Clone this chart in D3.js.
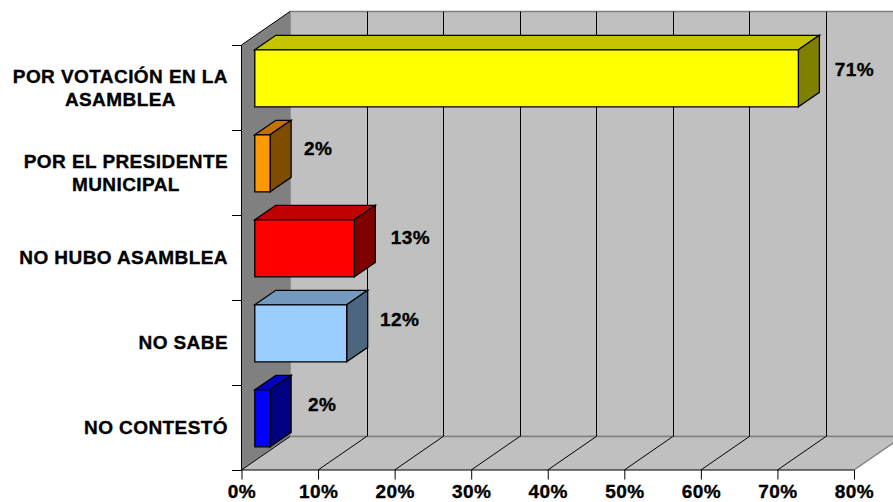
<!DOCTYPE html>
<html><head><meta charset="utf-8">
<script src="https://d3js.org/d3.v7.min.js"></script>
<style>html,body{margin:0;padding:0;background:#fff}svg{display:block}text{font-family:"Liberation Sans",Arial,sans-serif;font-weight:bold;fill:#000;stroke:#000;stroke-width:.35px}</style>
</head><body><svg id="c" width="893" height="502"></svg>
<script>
const categories=[["POR VOTACIÓN EN LA","ASAMBLEA"],["POR EL PRESIDENTE","MUNICIPAL"],["NO HUBO ASAMBLEA"],["NO SABE"],["NO CONTESTÓ"]];
const values=[71,2,13,12,2];
const valueLabels=["71%","2%","13%","12%","2%"];
const frontColors=["#FFFF00","#FF9900","#FF0000","#99CCFF","#0000FF"];
const topColors=["#C4C400","#C07300","#C00000","#7399BF","#0000C0"];
const sideColors=["#808000","#804D00","#800000","#4D6680","#000080"];
const xTickValues=[0,10,20,30,40,50,60,70,80];
const labelNudgeX=[35,27,35,32,31];
const labelNudgeY=[-8,-14,-10,-13,-13];

const svg=d3.select("#c");
const W=893;
const x=d3.scaleLinear().domain([0,80]).range([241.5,854]);
const y=d3.scaleBand().domain(d3.range(values.length)).range([45,470]);
const depth={x:48.5,y:-33.5};
const bar={x:13.3,y:-9,dx:21,dy:-14.5,pad:13.8,h:57};
const top0=y.range()[0],bot=y.range()[1];
const poly=(p,fill,stroke,sw)=>svg.append("polygon").attr("points",p.map(d=>d.join(",")).join(" ")).attr("fill",fill).attr("stroke",stroke||"none").attr("stroke-width",sw||1);
const x0=x(0),xEnd=x(80);
const FS=19, LS=0.42;

poly([[x0+depth.x,top0+depth.y],[W+20,top0+depth.y],[W+20,bot+depth.y],[x0+depth.x,bot+depth.y]],"#C0C0C0","#808080",1.5);
poly([[x0,top0],[x0+depth.x,top0+depth.y],[x0+depth.x,bot+depth.y],[x0,bot]],"#808080","none");
svg.append("line").attr("x1",x0).attr("y1",top0).attr("x2",x0+depth.x).attr("y2",top0+depth.y).attr("stroke","#000");
poly([[x0,bot],[x0+depth.x,bot+depth.y],[xEnd+depth.x,bot+depth.y],[xEnd,bot]],"#C0C0C0","none");
svg.append("line").attr("x1",x0+depth.x).attr("y1",bot+depth.y).attr("x2",W).attr("y2",bot+depth.y).attr("stroke","#808080").attr("stroke-width",1.5);
svg.append("line").attr("x1",xEnd).attr("y1",bot).attr("x2",xEnd+depth.x).attr("y2",bot+depth.y).attr("stroke","#808080").attr("stroke-width",1.5);
xTickValues.slice(1).forEach(t=>{
  const gx=Math.round(x(t)+depth.x)+.5;
  svg.append("line").attr("x1",gx).attr("x2",gx).attr("y1",top0+depth.y).attr("y2",bot+depth.y).attr("stroke","#000");
});
xTickValues.slice(0,-1).forEach(t=>{
  svg.append("line").attr("x1",x(t)).attr("y1",bot).attr("x2",x(t)+depth.x).attr("y2",bot+depth.y).attr("stroke","#000");
});
const ya=svg.append("g").attr("transform",`translate(${x0},0)`);
ya.append("line").attr("y1",top0).attr("y2",bot).attr("stroke","#000");
d3.range(values.length+1).forEach(i=>{
  const ty=Math.round(top0+i*y.step())+.5;
  ya.append("line").attr("x1",-9.5).attr("x2",0).attr("y1",ty).attr("y2",ty).attr("stroke","#000");
});
const xa=d3.axisBottom(x).tickValues(xTickValues).tickFormat(d=>d+"%").tickSize(9.5).tickPadding(8);
const gx=svg.append("g").attr("transform",`translate(0,${bot})`).call(xa);
gx.selectAll("path").attr("d",`M${x0},0H${xEnd}`).attr("stroke","#000");
gx.selectAll("line").attr("stroke","#000");
gx.selectAll("text").attr("font-size",FS).attr("letter-spacing",LS).attr("dy",null).attr("y",27.8);
gx.attr("font-family",null).attr("font-size",null);

values.forEach((v,i)=>{
  const l=x(0)+bar.x,r=x(v)+bar.x,t=y(i)+bar.pad+bar.y,by=t+bar.h;
  const dx=bar.dx,dy=bar.dy;
  poly([[l,t],[l+dx,t+dy],[r+dx,t+dy],[r,t]],topColors[i],"#000",1.3);
  poly([[r,t],[r+dx,t+dy],[r+dx,by+dy],[r,by]],sideColors[i],"#000",1.3);
  poly([[l,t],[r,t],[r,by],[l,by]],frontColors[i],"#000",1.3);
  svg.append("text").attr("x",r+dx+labelNudgeX[i]).attr("y",(t+by)/2+labelNudgeY[i]+6)
    .attr("text-anchor","middle").attr("font-size",FS).attr("letter-spacing",LS).text(valueLabels[i]);
});
categories.forEach((lines,i)=>{
  const cy=y(i)+y.step()/2+0.5;
  const g=svg.append("g");
  const ts=lines.map((s,j)=>g.append("text").attr("font-size",FS).attr("letter-spacing",LS).attr("text-anchor","middle")
    .attr("y",cy+(j-(lines.length-1)/2)*23+6).text(s));
  const w=d3.max(ts,t=>t.node().getComputedTextLength());
  ts.forEach(t=>t.attr("x",228-w/2));
});
</script></body></html>
